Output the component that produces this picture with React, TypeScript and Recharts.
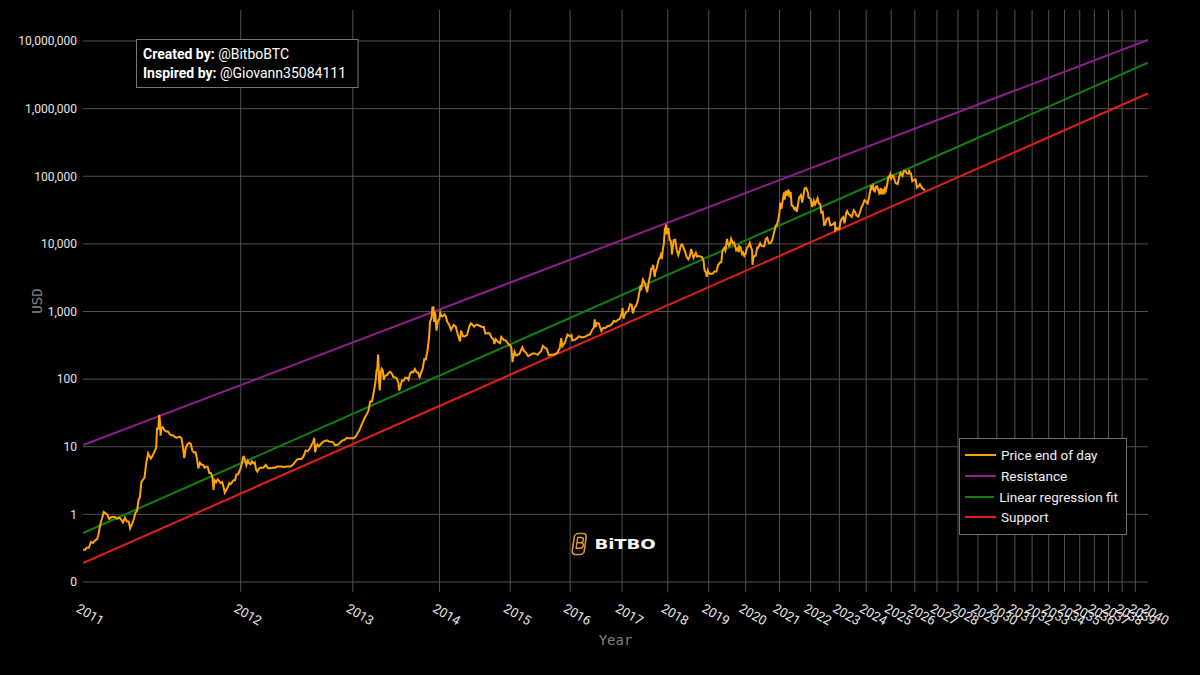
import React from 'react';
import { ComposedChart, Line, XAxis, YAxis, CartesianGrid, Legend, Label } from 'recharts';

// ---------- data ----------
const yearLabels = [
  2011, 2012, 2013, 2014, 2015, 2016, 2017, 2018, 2019, 2020, 2021, 2022, 2023, 2024, 2025,
  2026, 2027, 2028, 2029, 2030, 2031, 2032, 2033, 2034, 2035, 2036, 2037, 2038, 2039, 2040,
];

const yTickValues = [0.1, 1, 10, 100, 1000, 10000, 100000, 1000000, 10000000];
const yDomain: [number, number] = [0.0711, 28740000];

const priceSeries: [string, number][] = [
  ['2011-01-01', 0.3], ['2011-01-05', 0.3], ['2011-01-08', 0.32], ['2011-01-12', 0.32], ['2011-01-16', 0.39],
  ['2011-01-20', 0.38], ['2011-01-24', 0.41], ['2011-01-28', 0.43], ['2011-01-31', 0.52], ['2011-02-03', 0.7],
  ['2011-02-07', 0.89], ['2011-02-10', 1.09], ['2011-02-13', 1.05], ['2011-02-17', 0.99], ['2011-02-21', 0.86],
  ['2011-02-25', 0.91], ['2011-03-01', 0.92], ['2011-03-05', 0.91], ['2011-03-09', 0.86], ['2011-03-13', 0.9],
  ['2011-03-17', 0.84], ['2011-03-21', 0.76], ['2011-03-25', 0.89], ['2011-03-29', 0.79], ['2011-04-02', 0.78],
  ['2011-04-05', 0.62], ['2011-04-09', 0.72], ['2011-04-13', 0.86], ['2011-04-16', 1.04], ['2011-04-20', 1.14],
  ['2011-04-23', 1.64], ['2011-04-26', 1.8], ['2011-04-29', 3.0], ['2011-05-02', 3.2], ['2011-05-06', 3.5],
  ['2011-05-10', 5.8], ['2011-05-14', 8.0], ['2011-05-17', 7.2], ['2011-05-20', 6.7], ['2011-05-24', 7.4],
  ['2011-05-28', 8.4], ['2011-06-01', 9.6], ['2011-06-03', 18.6], ['2011-06-06', 18.5], ['2011-06-08', 29.6],
  ['2011-06-10', 23.0], ['2011-06-11', 14.6], ['2011-06-13', 19.0], ['2011-06-16', 19.5], ['2011-06-20', 17.5],
  ['2011-06-24', 16.8], ['2011-06-28', 16.8], ['2011-07-02', 15.4], ['2011-07-06', 14.8], ['2011-07-10', 14.8],
  ['2011-07-14', 14.0], ['2011-07-18', 13.6], ['2011-07-22', 13.8], ['2011-07-26', 14.0], ['2011-07-30', 13.5],
  ['2011-08-03', 9.6], ['2011-08-06', 6.8], ['2011-08-10', 9.8], ['2011-08-14', 10.8], ['2011-08-18', 11.4],
  ['2011-08-22', 11.0], ['2011-08-26', 8.7], ['2011-08-30', 8.2], ['2011-09-03', 8.3], ['2011-09-06', 6.9],
  ['2011-09-10', 4.8], ['2011-09-14', 5.8], ['2011-09-18', 5.4], ['2011-09-22', 5.4], ['2011-09-26', 4.9],
  ['2011-09-30', 5.1], ['2011-10-04', 5.0], ['2011-10-08', 4.1], ['2011-10-12', 4.1], ['2011-10-16', 3.6],
  ['2011-10-19', 2.3], ['2011-10-22', 3.2], ['2011-10-26', 3.0], ['2011-10-30', 3.3], ['2011-11-03', 3.1],
  ['2011-11-07', 2.9], ['2011-11-11', 3.0], ['2011-11-15', 2.5], ['2011-11-18', 2.1], ['2011-11-22', 2.3],
  ['2011-11-26', 2.5], ['2011-11-30', 2.9], ['2011-12-04', 2.8], ['2011-12-08', 3.0], ['2011-12-12', 3.2],
  ['2011-12-16', 3.2], ['2011-12-20', 3.9], ['2011-12-24', 3.9], ['2011-12-28', 4.3], ['2011-12-31', 4.7],
  ['2012-01-04', 5.6], ['2012-01-08', 7.0], ['2012-01-10', 7.1], ['2012-01-13', 6.4], ['2012-01-17', 5.3],
  ['2012-01-21', 6.2], ['2012-01-25', 5.7], ['2012-01-29', 5.5], ['2012-02-02', 6.1], ['2012-02-06', 5.7],
  ['2012-02-10', 5.9], ['2012-02-14', 4.6], ['2012-02-18', 4.3], ['2012-02-22', 4.7], ['2012-02-26', 4.9],
  ['2012-03-01', 4.9], ['2012-03-07', 4.9], ['2012-03-14', 5.4], ['2012-03-21', 4.8], ['2012-03-28', 4.8],
  ['2012-04-04', 4.9], ['2012-04-11', 4.9], ['2012-04-18', 5.1], ['2012-04-25', 5.1], ['2012-05-02', 5.1],
  ['2012-05-09', 5.0], ['2012-05-16', 5.1], ['2012-05-23', 5.1], ['2012-05-30', 5.1], ['2012-06-06', 5.4],
  ['2012-06-13', 5.9], ['2012-06-20', 6.5], ['2012-06-27', 6.6], ['2012-07-04', 6.6], ['2012-07-11', 7.2],
  ['2012-07-18', 8.8], ['2012-07-25', 8.6], ['2012-08-01', 9.4], ['2012-08-08', 10.9], ['2012-08-12', 11.6],
  ['2012-08-16', 13.5], ['2012-08-19', 8.3], ['2012-08-23', 10.1], ['2012-08-27', 10.8], ['2012-09-01', 10.1],
  ['2012-09-08', 11.0], ['2012-09-15', 11.8], ['2012-09-22', 12.2], ['2012-09-29', 12.4], ['2012-10-06', 11.9],
  ['2012-10-13', 11.8], ['2012-10-20', 11.7], ['2012-10-27', 10.6], ['2012-11-03', 10.6], ['2012-11-10', 10.9],
  ['2012-11-17', 11.8], ['2012-11-24', 12.4], ['2012-12-01', 12.6], ['2012-12-08', 13.4], ['2012-12-15', 13.3],
  ['2012-12-22', 13.4], ['2012-12-29', 13.4],
  ['2013-01-05', 13.4], ['2013-01-12', 14.1], ['2013-01-19', 16.0], ['2013-01-26', 17.5], ['2013-02-02', 20.5],
  ['2013-02-09', 23.5], ['2013-02-16', 27.0], ['2013-02-23', 29.9], ['2013-03-02', 34.3], ['2013-03-09', 46.9],
  ['2013-03-16', 47.0], ['2013-03-23', 64.3], ['2013-03-30', 93.0], ['2013-04-03', 135], ['2013-04-06', 142],
  ['2013-04-09', 230], ['2013-04-11', 160], ['2013-04-13', 95], ['2013-04-16', 68], ['2013-04-20', 127],
  ['2013-04-24', 142], ['2013-04-28', 134], ['2013-05-02', 98], ['2013-05-07', 112], ['2013-05-14', 114],
  ['2013-05-21', 122], ['2013-05-28', 129], ['2013-06-04', 121], ['2013-06-11', 107], ['2013-06-18', 107],
  ['2013-06-25', 102], ['2013-07-02', 88], ['2013-07-05', 68], ['2013-07-10', 77], ['2013-07-17', 96],
  ['2013-07-24', 95], ['2013-07-31', 105], ['2013-08-07', 105], ['2013-08-14', 98], ['2013-08-21', 121],
  ['2013-08-28', 129], ['2013-09-04', 126], ['2013-09-11', 141], ['2013-09-18', 127], ['2013-09-25', 124],
  ['2013-10-02', 107], ['2013-10-09', 126], ['2013-10-16', 144], ['2013-10-23', 199], ['2013-10-30', 196],
  ['2013-11-06', 260], ['2013-11-10', 326], ['2013-11-14', 420], ['2013-11-18', 703], ['2013-11-21', 740],
  ['2013-11-25', 800], ['2013-11-29', 1150], ['2013-12-04', 1151], ['2013-12-07', 700], ['2013-12-10', 995],
  ['2013-12-13', 875], ['2013-12-18', 522], ['2013-12-21', 620], ['2013-12-26', 745], ['2013-12-31', 757],
  ['2014-01-05', 950], ['2014-01-10', 860], ['2014-01-15', 850], ['2014-01-25', 900], ['2014-02-01', 830],
  ['2014-02-07', 700], ['2014-02-15', 650], ['2014-02-25', 535], ['2014-03-01', 565], ['2014-03-10', 630],
  ['2014-03-20', 600], ['2014-03-31', 450], ['2014-04-10', 360], ['2014-04-15', 520], ['2014-04-25', 430],
  ['2014-05-05', 430], ['2014-05-15', 447], ['2014-05-25', 580], ['2014-06-03', 670], ['2014-06-10', 650],
  ['2014-06-20', 595], ['2014-07-01', 640], ['2014-07-15', 620], ['2014-08-01', 590], ['2014-08-10', 590],
  ['2014-08-18', 470], ['2014-09-01', 480], ['2014-09-10', 475], ['2014-09-20', 410], ['2014-09-30', 387],
  ['2014-10-05', 330], ['2014-10-12', 390], ['2014-10-25', 355], ['2014-11-05', 340], ['2014-11-12', 420],
  ['2014-11-25', 380], ['2014-12-05', 375], ['2014-12-15', 350], ['2014-12-25', 320], ['2014-12-31', 320],
  ['2015-01-07', 295], ['2015-01-14', 178], ['2015-01-18', 210], ['2015-01-25', 253], ['2015-02-01', 226],
  ['2015-02-08', 223], ['2015-02-15', 234], ['2015-02-22', 235], ['2015-03-01', 260], ['2015-03-11', 296],
  ['2015-03-20', 262], ['2015-04-01', 247], ['2015-04-14', 219], ['2015-04-25', 226], ['2015-05-10', 240],
  ['2015-05-25', 240], ['2015-06-10', 229], ['2015-06-20', 245], ['2015-07-01', 258], ['2015-07-12', 310],
  ['2015-07-25', 289], ['2015-08-05', 280], ['2015-08-18', 225], ['2015-08-30', 229], ['2015-09-15', 230],
  ['2015-09-25', 235], ['2015-10-10', 245], ['2015-10-25', 285], ['2015-11-04', 403], ['2015-11-11', 305],
  ['2015-11-20', 326], ['2015-12-01', 362], ['2015-12-15', 455], ['2015-12-31', 430],
  ['2016-01-10', 448], ['2016-01-15', 375], ['2016-01-30', 378], ['2016-02-15', 400], ['2016-03-01', 432],
  ['2016-03-15', 415], ['2016-04-01', 416], ['2016-04-15', 429], ['2016-05-01', 450], ['2016-05-15', 457],
  ['2016-05-28', 530], ['2016-06-10', 580], ['2016-06-16', 765], ['2016-06-22', 593], ['2016-07-01', 675],
  ['2016-07-15', 665], ['2016-08-02', 515], ['2016-08-15', 570], ['2016-09-01', 572], ['2016-09-15', 607],
  ['2016-10-01', 615], ['2016-10-15', 640], ['2016-11-01', 730], ['2016-11-15', 710], ['2016-12-01', 755],
  ['2016-12-15', 780], ['2016-12-31', 963],
  ['2017-01-04', 1135], ['2017-01-11', 780], ['2017-01-20', 895], ['2017-02-01', 985], ['2017-02-15', 1010],
  ['2017-03-03', 1285], ['2017-03-15', 1250], ['2017-03-24', 935], ['2017-04-05', 1130], ['2017-04-20', 1240],
  ['2017-05-01', 1420], ['2017-05-10', 1760], ['2017-05-24', 2440], ['2017-05-27', 2050], ['2017-06-11', 2960],
  ['2017-06-20', 2750], ['2017-07-01', 2430], ['2017-07-15', 1930], ['2017-07-25', 2580], ['2017-08-05', 3230],
  ['2017-08-17', 4300], ['2017-08-25', 4340], ['2017-09-01', 4890], ['2017-09-14', 3240], ['2017-09-20', 3900],
  ['2017-10-01', 4390], ['2017-10-12', 5440], ['2017-10-20', 6000], ['2017-10-31', 6470], ['2017-11-08', 7450],
  ['2017-11-12', 5950], ['2017-11-20', 8250], ['2017-11-28', 9900], ['2017-12-07', 16500], ['2017-12-12', 17400],
  ['2017-12-17', 19300], ['2017-12-22', 13800], ['2017-12-27', 15700], ['2017-12-31', 14150],
  ['2018-01-06', 17100], ['2018-01-10', 14900], ['2018-01-16', 11400], ['2018-01-25', 11200], ['2018-02-01', 9170],
  ['2018-02-05', 6950], ['2018-02-12', 8900], ['2018-02-20', 11400], ['2018-03-05', 11500], ['2018-03-18', 8200],
  ['2018-04-01', 6850], ['2018-04-12', 7900], ['2018-04-24', 9600], ['2018-05-05', 9800], ['2018-05-20', 8500],
  ['2018-06-01', 7500], ['2018-06-12', 6500], ['2018-06-28', 5900], ['2018-07-10', 6400], ['2018-07-24', 8400],
  ['2018-08-05', 7000], ['2018-08-14', 6200], ['2018-09-04', 7400], ['2018-09-15', 6500], ['2018-10-01', 6600],
  ['2018-10-20', 6450], ['2018-11-01', 6350], ['2018-11-14', 5600], ['2018-11-20', 4450], ['2018-11-25', 4000],
  ['2018-12-05', 3800], ['2018-12-15', 3250], ['2018-12-24', 4000], ['2018-12-31', 3740],
  ['2019-01-15', 3600], ['2019-02-08', 3640], ['2019-02-24', 3900], ['2019-03-15', 3900], ['2019-04-02', 4900],
  ['2019-04-20', 5300], ['2019-05-01', 5350], ['2019-05-14', 8000], ['2019-05-30', 8700], ['2019-06-10', 8000],
  ['2019-06-26', 11800], ['2019-07-02', 10500], ['2019-07-16', 9400], ['2019-07-25', 9800], ['2019-08-06', 11900],
  ['2019-08-25', 10100], ['2019-09-06', 10400], ['2019-09-26', 8050], ['2019-10-10', 8600], ['2019-10-23', 7500],
  ['2019-10-26', 9250], ['2019-11-10', 8800], ['2019-11-25', 7050], ['2019-12-05', 7400], ['2019-12-17', 6640],
  ['2019-12-31', 7200],
  ['2020-01-15', 8800], ['2020-02-01', 9400], ['2020-02-12', 10350], ['2020-02-28', 8700], ['2020-03-08', 8000],
  ['2020-03-12', 4900], ['2020-03-20', 6200], ['2020-04-01', 6600], ['2020-04-15', 6700], ['2020-05-01', 8800],
  ['2020-05-10', 8700], ['2020-06-01', 10200], ['2020-06-15', 9400], ['2020-07-01', 9200], ['2020-07-15', 9200],
  ['2020-08-01', 11800], ['2020-08-17', 12300], ['2020-09-05', 10150], ['2020-09-23', 10250], ['2020-10-10', 11300],
  ['2020-10-21', 12800], ['2020-11-05', 15600], ['2020-11-20', 18700], ['2020-12-01', 18800], ['2020-12-17', 22800],
  ['2020-12-31', 29000],
  ['2021-01-08', 40600], ['2021-01-22', 33000], ['2021-02-08', 46400], ['2021-02-21', 57500], ['2021-02-28', 45200],
  ['2021-03-13', 61200], ['2021-03-25', 51700], ['2021-04-13', 63500], ['2021-04-25', 49000], ['2021-05-08', 58800],
  ['2021-05-19', 37000], ['2021-06-01', 36700], ['2021-06-22', 32500], ['2021-07-05', 33800], ['2021-07-20', 29800],
  ['2021-08-14', 47800], ['2021-09-06', 52700], ['2021-09-21', 40700], ['2021-10-05', 51500], ['2021-10-20', 65900],
  ['2021-11-08', 67500], ['2021-11-30', 57000], ['2021-12-04', 49400], ['2021-12-31', 46300],
  ['2022-01-10', 41800], ['2022-01-22', 35000], ['2022-02-10', 43500], ['2022-02-24', 38300], ['2022-03-28', 47100],
  ['2022-04-11', 39500], ['2022-05-01', 38500], ['2022-05-12', 28900], ['2022-06-01', 29800], ['2022-06-18', 19000],
  ['2022-07-01', 19300], ['2022-07-20', 23200], ['2022-08-14', 24300], ['2022-09-06', 18800], ['2022-10-01', 19300],
  ['2022-10-25', 20100], ['2022-11-05', 21300], ['2022-11-09', 15900], ['2022-12-01', 17000], ['2022-12-31', 16550],
  ['2023-01-15', 20900], ['2023-02-01', 23700], ['2023-02-20', 24800], ['2023-03-10', 20200], ['2023-04-01', 28500],
  ['2023-04-14', 30500], ['2023-05-01', 28000], ['2023-06-15', 25100], ['2023-07-13', 31400], ['2023-08-01', 29700],
  ['2023-08-17', 26600], ['2023-09-11', 25200], ['2023-10-01', 27900], ['2023-10-24', 34000], ['2023-11-15', 37800],
  ['2023-12-08', 44200], ['2023-12-31', 42300],
  ['2024-01-23', 39500], ['2024-02-15', 51800], ['2024-03-13', 73100], ['2024-03-19', 62000], ['2024-04-08', 71600],
  ['2024-05-01', 57800], ['2024-05-21', 70100], ['2024-06-05', 71100], ['2024-07-05', 56700], ['2024-07-29', 66800],
  ['2024-08-05', 54000], ['2024-08-25', 64200], ['2024-09-06', 53900], ['2024-09-27', 65800], ['2024-10-10', 60300],
  ['2024-10-29', 72700], ['2024-11-12', 88700], ['2024-11-22', 98900], ['2024-12-05', 97800], ['2024-12-17', 106100],
  ['2024-12-30', 92800],
  ['2025-01-20', 102000], ['2025-02-03', 101400], ['2025-02-27', 84500], ['2025-03-10', 78500], ['2025-04-08', 76300],
  ['2025-05-01', 96500], ['2025-05-22', 111700], ['2025-06-22', 100900], ['2025-07-14', 119800], ['2025-08-14', 118400],
  ['2025-09-01', 109300], ['2025-09-25', 109000], ['2025-10-06', 124800], ['2025-10-11', 110800], ['2025-11-01', 110000],
  ['2025-11-21', 85000], ['2025-12-01', 86500], ['2025-12-20', 88000], ['2026-01-14', 90000], ['2026-02-05', 68000],
  ['2026-02-20', 70000], ['2026-03-10', 72000], ['2026-03-25', 76000], ['2026-04-15', 70000], ['2026-05-07', 66000],
  ['2026-06-15', 62000],
];

const trendDates = ['2011-01-01', '2040-01-01'];
const resistanceValues = [10.6, 10350000];
const regressionValues = [0.53, 4780000];
const supportValues = [0.19, 1680000];

const seriesNames = ['Price end of day', 'Resistance', 'Linear regression fit', 'Support'];
const seriesColors = ['#ffa500', '#8f1f8f', '#118211', '#e41e1e'];

// ---------- helpers ----------
const GENESIS = Date.UTC(2009, 0, 3);
const toDays = (iso: string) => Math.round((Date.parse(iso + 'T00:00:00Z') - GENESIS) / 86400000);

const yearDays = yearLabels.map((y) => toDays(`${y}-01-01`));
const innerYearDays = yearDays.slice(1, -1);
const xDomain: [number, number] = [yearDays[0], yearDays[yearDays.length - 1]];
const yearByDay = new Map<number, number>(yearDays.map((d, i) => [d, yearLabels[i]]));

const priceData = priceSeries.map(([d, v]) => ({ d: toDays(d), v }));
const mkTrend = (vals: number[]) => trendDates.map((d, i) => ({ d: toDays(d), v: vals[i] }));
const resistanceData = mkTrend(resistanceValues);
const regressionData = mkTrend(regressionValues);
const supportData = mkTrend(supportValues);

const fmtY = (v: number) => (v < 1 ? '0' : Math.round(v).toLocaleString('en-US'));

const XTick = (props: any) => {
  const { x, y, payload } = props;
  const ax = x - 3;
  const ay = y + 3;
  return (
    <text
      x={ax}
      y={ay}
      dy="0.72em"
      transform={`rotate(30 ${ax} ${ay})`}
      textAnchor="start"
      fill="#e6e6e6"
      fontSize={13}
      fontFamily="Roboto, sans-serif"
    >
      {yearByDay.get(payload.value) ?? ''}
    </text>
  );
};

const LegendBox = () => (
  <div
    style={{
      border: '1px solid #707070',
      background: '#000',
      padding: '6px 8px 6px 5px',
      boxSizing: 'border-box',
      width: 168,
      fontFamily: 'Roboto, sans-serif',
    }}
  >
    {seriesNames.map((n, i) => (
      <div key={n} style={{ display: 'flex', alignItems: 'center', height: 20.7 }}>
        <span style={{ display: 'inline-block', width: 31, height: 2, background: seriesColors[i], marginRight: 5 }} />
        <span style={{ color: '#f0f0f0', fontSize: 13.5, whiteSpace: 'nowrap' }}>{n}</span>
      </div>
    ))}
  </div>
);

export default function App() {
  return (
    <div style={{ position: 'absolute', left: 0, top: 0, width: 1200, height: 675, background: '#000', overflow: 'hidden' }}>
      <ComposedChart width={1200} height={675} margin={{ top: 10, right: 52, bottom: 0, left: 0 }}>
        <CartesianGrid stroke="#505050" strokeWidth={1} horizontalValues={yTickValues} verticalValues={innerYearDays} />
        <XAxis
          dataKey="d"
          type="number"
          scale="log"
          domain={xDomain}
          allowDataOverflow
          ticks={yearDays}
          interval={0}
          tick={<XTick />}
          axisLine={false}
          tickLine={false}
          height={83}
        >
          <Label value="Year" position="center" dy={7} fill="#808080" fontSize={14} fontFamily="DejaVu Sans Mono, monospace" />
        </XAxis>
        <YAxis
          type="number"
          scale="log"
          domain={yDomain}
          allowDataOverflow
          ticks={yTickValues}
          interval={0}
          tickFormatter={fmtY}
          axisLine={false}
          tickLine={false}
          tickSize={4}
          tickMargin={2}
          width={83}
          tick={{ fill: '#e6e6e6', fontSize: 12, fontFamily: 'Roboto, sans-serif' }}
        >
          <Label value="USD" angle={-90} position="center" dx={-4} fill="#808080" fontSize={14} fontFamily="DejaVu Sans Mono, monospace" />
        </YAxis>
        <Line data={resistanceData} dataKey="v" name={seriesNames[1]} stroke={seriesColors[1]} strokeWidth={2} dot={false} isAnimationActive={false} />
        <Line data={regressionData} dataKey="v" name={seriesNames[2]} stroke={seriesColors[2]} strokeWidth={2} dot={false} isAnimationActive={false} />
        <Line data={supportData} dataKey="v" name={seriesNames[3]} stroke={seriesColors[3]} strokeWidth={2} dot={false} isAnimationActive={false} />
        <Line data={priceData} dataKey="v" name={seriesNames[0]} stroke={seriesColors[0]} strokeWidth={2} dot={false} isAnimationActive={false} />
        <Legend
          layout="vertical"
          align="center"
          verticalAlign="middle"
          content={<LegendBox />}
          wrapperStyle={{ left: 959, top: 438, width: 168 }}
        />
      </ComposedChart>
      <svg width={1200} height={675} style={{ position: 'absolute', left: 0, top: 0, pointerEvents: 'none' }}>
        <rect x={136.5} y={39.5} width={221.5} height={48} fill="#000" stroke="#777" strokeWidth={1} />
        <text x={143} y={59.3} fill="#ffffff" fontSize={14} fontFamily="Roboto, sans-serif">
          <tspan fontWeight="bold">Created by:</tspan>
          <tspan> @BitboBTC</tspan>
        </text>
        <text x={143} y={77.8} fill="#ffffff" fontSize={14} fontFamily="Roboto, sans-serif">
          <tspan fontWeight="bold">Inspired by:</tspan>
          <tspan> @Giovann35084111</tspan>
        </text>
        <g transform="translate(565 528)">
          <g transform="skewX(-8) translate(3 0)">
            <rect x={7.5} y={5.5} width={12} height={21} rx={3.5} fill="none" stroke="#d99a2b" strokeWidth={1.6} />
            <path d="M11 9.5 h3.5 a2.6 2.6 0 0 1 0 5.2 h-3.5 z M11 14.7 h4 a2.8 2.8 0 0 1 0 5.6 h-4 z" fill="none" stroke="#d99a2b" strokeWidth={1.4} />
          </g>
          <g transform="translate(29.5 20.7) scale(1.3 1)">
            <text x={0} y={0} fill="#f2f2f2" fontSize={14} fontWeight="bold" fontFamily="DejaVu Sans, sans-serif" textLength={47} lengthAdjust="spacing">
              BiTBO
            </text>
          </g>
        </g>
      </svg>
    </div>
  );
}
